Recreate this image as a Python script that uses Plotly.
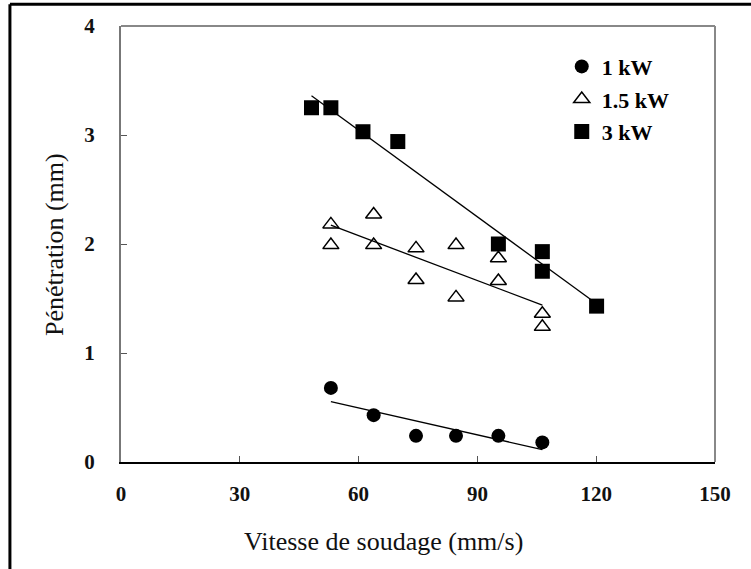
import numpy as np
import plotly.graph_objects as go

# Welding speed (mm/s) and penetration depth (mm) for each laser power
speed_1kw = [53, 63.8, 74.5, 84.6, 95.3, 106.4]
pen_1kw = [0.68, 0.43, 0.24, 0.24, 0.24, 0.18]

speed_15kw = [53, 53, 63.8, 63.8, 74.5, 74.5, 84.6, 84.6, 95.3, 95.3, 106.4, 106.4]
pen_15kw = [2.18, 1.99, 2.27, 1.99, 1.96, 1.67, 1.99, 1.51, 1.87, 1.66, 1.36, 1.24]

speed_3kw = [48.1, 53, 61.1, 69.9, 95.3, 106.4, 106.4, 120.1]
pen_3kw = [3.25, 3.25, 3.03, 2.94, 2.00, 1.93, 1.75, 1.43]

x_ticks = [0, 30, 60, 90, 120, 150]
y_ticks = [0, 1, 2, 3, 4]

FONT = "Liberation Serif"

series = [
    ("1 kW", speed_1kw, pen_1kw, dict(symbol="circle", size=14, color="black")),
    ("1.5 kW", speed_15kw, pen_15kw,
     dict(symbol="triangle-up-open", size=14, color="black", line=dict(width=1.5, color="black"))),
    ("3 kW", speed_3kw, pen_3kw, dict(symbol="square", size=15, color="black")),
]

fig = go.Figure()

for i, (name, xs, ys, marker) in enumerate(series):
    fig.add_trace(go.Scatter(
        x=xs, y=ys, mode="markers", name=name, marker=marker,
        legendgroup=name, cliponaxis=False,
    ))
    # least-squares linear trend over the measured speed range
    slope, intercept = np.polyfit(xs, ys, 1)
    xl = np.array([min(xs), max(xs)])
    fig.add_trace(go.Scatter(
        x=xl, y=slope * xl + intercept, mode="lines",
        line=dict(color="black", width=1.3),
        showlegend=False, hoverinfo="skip",
    ))

fig.update_layout(
    width=751, height=569,
    margin=dict(l=121, r=36, t=26, b=107),
    paper_bgcolor="white", plot_bgcolor="white",
    font=dict(family=FONT, color="black"),
    showlegend=True,
    legend=dict(
        x=0.742, y=0.955, xanchor="left", yanchor="top",
        font=dict(family=FONT, size=22, color="black", weight="bold"),
        bgcolor="rgba(0,0,0,0)", tracegroupgap=1,
        itemwidth=30,
    ),
    xaxis=dict(
        range=[0, 150], tickvals=x_ticks, ticks="inside", ticklen=6,
        tickcolor="#555", showgrid=False, zeroline=False,
        showline=True, linecolor="black", linewidth=2,
        tickfont=dict(family=FONT, size=21, color="#111", weight="bold"),
        ticklabelstandoff=12,
    ),
    yaxis=dict(
        range=[0, 4], tickvals=y_ticks, ticks="inside", ticklen=6,
        tickcolor="#555", showgrid=False, zeroline=False,
        showline=True, linecolor="#777", linewidth=2,
        tickfont=dict(family=FONT, size=21, color="#111", weight="bold"),
        ticklabelstandoff=20,
    ),
    shapes=[
        # gray frame on top and right of the plotting area
        dict(type="line", xref="paper", yref="paper", x0=0, x1=1, y0=1, y1=1,
             line=dict(color="#888", width=2)),
        dict(type="line", xref="paper", yref="paper", x0=1, x1=1, y0=0, y1=1,
             line=dict(color="#888", width=2)),
        # outer figure border (top and left)
        dict(type="line", xref="paper", yref="paper", x0=-0.187, x1=1.07, y0=1.050, y1=1.050,
             line=dict(color="black", width=3)),
        dict(type="line", xref="paper", yref="paper", x0=-0.187, x1=-0.187, y0=1.050, y1=-0.26,
             line=dict(color="black", width=3)),
    ],
    annotations=[
        dict(text="Vitesse de soudage (mm/s)", xref="paper", yref="paper",
             x=(383 - 121) / 594, y=(462 - 541) / 436, xanchor="center", yanchor="middle",
             showarrow=False, font=dict(family=FONT, size=26, color="#111")),
        dict(text="Pénétration (mm)", xref="paper", yref="paper",
             x=(55 - 121) / 594, y=(462 - 245) / 436, xanchor="center", yanchor="middle",
             textangle=-90, showarrow=False, font=dict(family=FONT, size=26, color="#111")),
    ],
)

fig.write_html("out.html")
